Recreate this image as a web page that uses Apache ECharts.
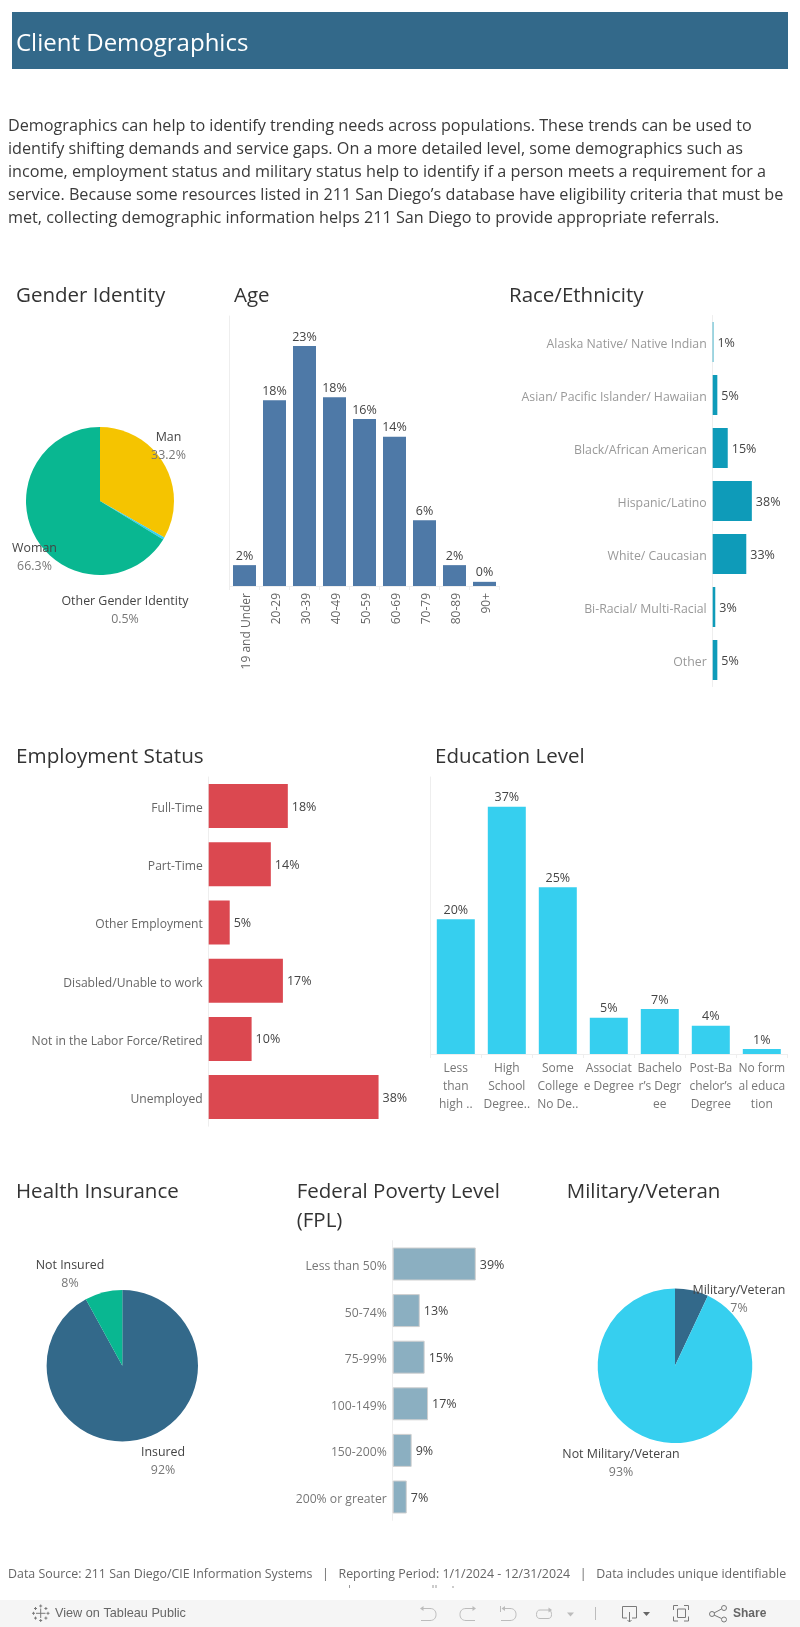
<!DOCTYPE html>
<html><head><meta charset="utf-8">
<style>html,body{margin:0;padding:0;background:#fff}#c{width:800px;height:1627px}</style>
<script src="https://cdn.jsdelivr.net/npm/echarts@6/dist/echarts.min.js"></script>
</head><body><div id="c"></div>
<script>
const FONT = '"Open Sans"';
const BAR_FONT = '"Liberation Sans"';
const titleText = 'Client Demographics';
const introLines = [
 'Demographics can help to identify trending needs across populations. These trends can be used to',
 'identify shifting demands and service gaps. On a more detailed level, some demographics such as',
 'income, employment status and military status help to identify if a person meets a requirement for a',
 "service. Because some resources listed in 211 San Diego\u2019s database have eligibility criteria that must be",
 'met, collecting demographic information helps 211 San Diego to provide appropriate referrals.'];
const footerText = 'Data Source: 211 San Diego/CIE Information Systems   |   Reporting Period: 1/1/2024 - 12/31/2024   |   Data includes unique identifiable';

const genderNames = ['Man','Other Gender Identity','Woman'];
const genderValues = [33.2,0.5,66.3];
const ageCats = ['19 and Under','20-29','30-39','40-49','50-59','60-69','70-79','80-89','90+'];
const ageValues = [2.0,17.8,23.0,18.1,16.0,14.3,6.3,2.0,0.4];
const raceCats = ['Alaska Native/ Native Indian','Asian/ Pacific Islander/ Hawaiian','Black/African American','Hispanic/Latino','White/ Caucasian','Bi-Racial/ Multi-Racial','Other'];
const raceValues = [0.7,4.5,14.6,38.0,32.6,2.5,4.5];
const empCats = ['Full-Time','Part-Time','Other Employment','Disabled/Unable to work','Not in the Labor Force/Retired','Unemployed'];
const empValues = [17.7,13.9,4.7,16.6,9.6,38.0];
const eduCats = ['Less\nthan\nhigh ..','High\nSchool\nDegree..','Some\nCollege\nNo De..','Associat\ne Degree\n ','Bachelo\nr\u2019s Degr\nee','Post-Ba\nchelor\u2019s\nDegree','No form\nal educa\ntion'];
const eduValues = [20.1,36.9,24.9,5.4,6.7,4.2,0.75];
const insNames = ['Insured','Not Insured'];
const insValues = [92,8];
const fplCats = ['Less than 50%','50-74%','75-99%','100-149%','150-200%','200% or greater'];
const fplValues = [39,12.7,15,16.6,8.9,6.6];
const milNames = ['Military/Veteran','Not Military/Veteran'];
const milValues = [7,93];

const chart = echarts.init(document.getElementById('c'), null, {renderer:'canvas'});
const pct = p => Math.round(p.value) + '%';
const grids = [], xAxes = [], yAxes = [], series = [];
const AX = '#eeeeee';

function vbar(name, cats, vals, color, box, max, barW, lab){
  const i = grids.length;
  grids.push({left:box[0],top:box[1],width:box[2],height:box[3],containLabel:false});
  xAxes.push({gridIndex:i,type:'category',data:cats,
    axisLine:{lineStyle:{color:AX}},axisTick:{show:true,length:4,lineStyle:{color:AX},alignWithLabel:false},
    axisLabel:Object.assign({interval:0,fontFamily:FONT},lab)});
  yAxes.push({gridIndex:i,type:'value',min:0,max:max,show:true,splitLine:{show:false},axisLabel:{show:false},axisTick:{show:false},
    axisLine:{show:true,lineStyle:{color:AX}}});
  series.push({name,type:'bar',xAxisIndex:i,yAxisIndex:i,data:vals,barWidth:barW,itemStyle:{color},
    label:{show:true,position:'top',distance:2.5,formatter:pct,fontFamily:FONT,fontSize:12.5,color:'#444'},silent:true});
}
function hbar(name, cats, vals, color, box, max, barH, lab, border){
  const i = grids.length;
  grids.push({left:box[0],top:box[1],width:box[2],height:box[3]});
  xAxes.push({gridIndex:i,type:'value',min:0,max:max,show:false,splitLine:{show:false}});
  yAxes.push({gridIndex:i,type:'category',data:cats,inverse:true,
    axisLine:{show:true,lineStyle:{color:AX}},axisTick:{show:false},
    axisLabel:Object.assign({interval:0,fontFamily:FONT,margin:6,lineHeight:5,verticalAlign:'top'},lab)});
  series.push({name,type:'bar',xAxisIndex:i,yAxisIndex:i,data:vals,barWidth:barH,
    itemStyle:Object.assign({color},border||{}),
    label:{show:true,position:'right',distance:4,offset:[0,1],formatter:pct,fontFamily:FONT,fontSize:12.5,color:'#444'},silent:true});
}
function pie(name,names,vals,colors,cx,cy,r,labelPos,fmt){
  series.push({name,type:'pie',center:[cx,cy],radius:[0,r],startAngle:90,clockwise:true,silent:true,
    minShowLabelAngle:0,avoidLabelOverlap:false,
    data:names.map((n,k)=>({name:n,value:vals[k],itemStyle:{color:colors[k]}})),
    label:{show:true,position:'outside',formatter:p=>'{n|'+p.name+'}\n{v|'+fmt(p.value)+'}',
      rich:{n:{fontFamily:FONT,fontSize:12.4,fontWeight:500,color:'#444',lineHeight:18,align:'center'},
            v:{fontFamily:FONT,fontSize:12.4,color:'#777',lineHeight:18,align:'center'}}},
    labelLine:{show:false},
    labelLayout:p=>({x:labelPos[p.dataIndex][0],y:labelPos[p.dataIndex][1],align:'center',verticalAlign:'middle'})
  });
}

pie('Gender',genderNames,genderValues,['#f5c400','#36cfef','#09b791'],100,501,74,[[168.5,446],[125,610.5],[34.5,557.5]],v=>v.toFixed(1)+'%');
vbar('Age',ageCats,ageValues,'#4e79a7',[229.5,316,270,270],270/10.43,23,{rotate:90,fontSize:12,color:'#666',margin:7,align:'right',verticalAlign:'top',lineHeight:4});
hbar('Race',raceCats,raceValues,'#0e9bb9',[712.7,315.5,75,371],75/1.03,40,{fontSize:12.3,color:'#999'});
hbar('Employment',empCats,empValues,'#db4850',[208.7,777,200,349.2],200/4.47,44,{fontSize:12.1,color:'#666'});
vbar('Education',eduCats,eduValues,'#36cfef',[430.3,777,357,277],277/6.7,38,{fontSize:12,color:'#777',margin:6,lineHeight:18,verticalAlign:'top'});
pie('Insurance',insNames,insValues,['#33698a','#09b791'],122.3,1365.7,75.7,[[163,1461],[70,1274]],v=>v+'%');
hbar('FPL',fplCats,fplValues,'#8bafc1',[392.7,1240.7,128,279.6],128/2.13,33,{fontSize:12.2,color:'#777'},{borderColor:'#cfcfcf',borderWidth:1});
pie('Military',milNames,milValues,['#33698a','#36cfef'],675,1365.7,77.3,[[739,1299],[621,1463]],v=>v+'%');

let shapeCount=0;
const txt=(x,y,text,size,color,extra)=>({type:'text',x,y,silent:true,style:Object.assign({text,fontFamily:FONT,fontSize:size,fill:color,verticalAlign:'middle'},extra||{})});
const stroke=(d,c,w)=>{
  const n='iconPath'+(shapeCount++);
  echarts.graphic.registerShape(n,echarts.graphic.extendPath(d));
  return {type:n,silent:true,style:{fill:'none',stroke:c,lineWidth:w||1}};
};
const tri=(x1,x2,y1,y2,c)=>({type:'polygon',silent:true,shape:{points:[[x1,y1],[x2,y1],[(x1+x2)/2,y2]]},style:{fill:c}});
const LG='#bcbcbc', DG='#7a7a7a';
const icons=[
 stroke('M40.7 1608.5V1618M36 1613.3H45.5M40.7 1604.5V1607.5M39.2 1606H42.2M40.7 1619V1622M39.2 1620.5H42.2M32 1613.3H35M33.5 1611.8V1614.8M46.5 1613.3H49.5M48 1611.8V1614.8M35.5 1607V1610M34 1608.5H37M45.9 1607V1610M44.4 1608.5H47.4M35.5 1616.6V1619.6M34 1618.1H37M45.9 1616.6V1619.6M44.4 1618.1H47.4',DG,1),
 stroke('M421 1608.5H430C434 1608.5 436 1611 436 1614.5C436 1618 434 1620.5 430 1620.5H421',LG),
 {type:'polygon',silent:true,shape:{points:[[420,1608.5],[423.5,1606],[423.5,1611]]},style:{fill:LG}},
 stroke('M475 1608.5H466C462 1608.5 460 1611 460 1614.5C460 1618 462 1620.5 466 1620.5H475',LG),
 {type:'polygon',silent:true,shape:{points:[[476,1608.5],[472.5,1606],[472.5,1611]]},style:{fill:LG}},
 stroke('M500.5 1606V1612M503 1608.5H510C514 1608.5 516 1611 516 1614.5C516 1618 514 1620.5 510 1620.5H501',LG),
 {type:'polygon',silent:true,shape:{points:[[501.5,1608.5],[505,1606],[505,1611]]},style:{fill:LG}},
 stroke('M549 1610H540C537.5 1610 536.5 1612 536.5 1614.5C536.5 1617 537.5 1618.5 540 1618.5H548C550.5 1618.5 551.5 1617 551.5 1614.5C551.5 1612.5 551 1611.5 550 1610.5',LG),
 {type:'polygon',silent:true,shape:{points:[[552,1610],[548.5,1607.5],[548.5,1612.5]]},style:{fill:LG}},
 tri(567,574,1612.5,1616.5,LG),
 stroke('M595.5 1607V1620',LG),
 stroke('M627 1618H622.5V1606.5H636.5V1618H632M629.5 1612V1622M627.5 1620L629.5 1622L631.5 1620',DG),
 tri(643,650,1612,1616,'#666666'),
 stroke('M673.5 1610V1605.5H678M684 1605.5H688.5V1610M688.5 1616.5V1621H684M678 1621H673.5V1616.5M677.5 1609H685.5V1617.5H677.5Z',DG),
 stroke('M714 1613L721.5 1609M714 1615L721.5 1618.5',DG),
 {type:'circle',silent:true,shape:{cx:712,cy:1614,r:2.5},style:{fill:'none',stroke:DG,lineWidth:1}},
 {type:'circle',silent:true,shape:{cx:724,cy:1608,r:2.5},style:{fill:'none',stroke:DG,lineWidth:1}},
 {type:'circle',silent:true,shape:{cx:724,cy:1619.5,r:2.5},style:{fill:'none',stroke:DG,lineWidth:1}},
];
const graphic=[
 {type:'rect',shape:{x:12,y:12,width:776,height:57},style:{fill:'#33698a'},silent:true},
 txt(16,44,titleText,24,'#ffffff'),
 ...introLines.map((l,i)=>txt(8,126+23*i,l,16.2,'#3a3a3a')),
 txt(16,296,'Gender Identity',20.5,'#333'),txt(234,296,'Age',20.5,'#333'),txt(509,296,'Race/Ethnicity',20.5,'#333'),
 txt(16,757,'Employment Status',20.7,'#333'),txt(435,757,'Education Level',20.5,'#333'),
 txt(16,1192,'Health Insurance',20.5,'#333'),txt(296.7,1192,'Federal Poverty Level',20.5,'#333'),txt(296.7,1221,'(FPL)',20.5,'#333'),txt(566.7,1192,'Military/Veteran',20.5,'#333'),
 txt(8,1574,footerText,12.4,'#666'),
 stroke('M349.5 1585V1588M433 1585V1588M436 1585V1588M453 1586V1588','#999'),
 {type:'rect',shape:{x:0,y:1600,width:800,height:27},style:{fill:'#f5f5f5'},silent:true},
 txt(55,1613.5,'View on Tableau Public',12.7,'#666',{fontFamily:BAR_FONT}),
 txt(733,1613.5,'Share',12,'#666',{fontFamily:BAR_FONT,fontWeight:'bold'}),
 ...icons,
];
chart.setOption({animation:false,backgroundColor:'#fff',grid:grids,xAxis:xAxes,yAxis:yAxes,series,graphic});
</script></body></html>
